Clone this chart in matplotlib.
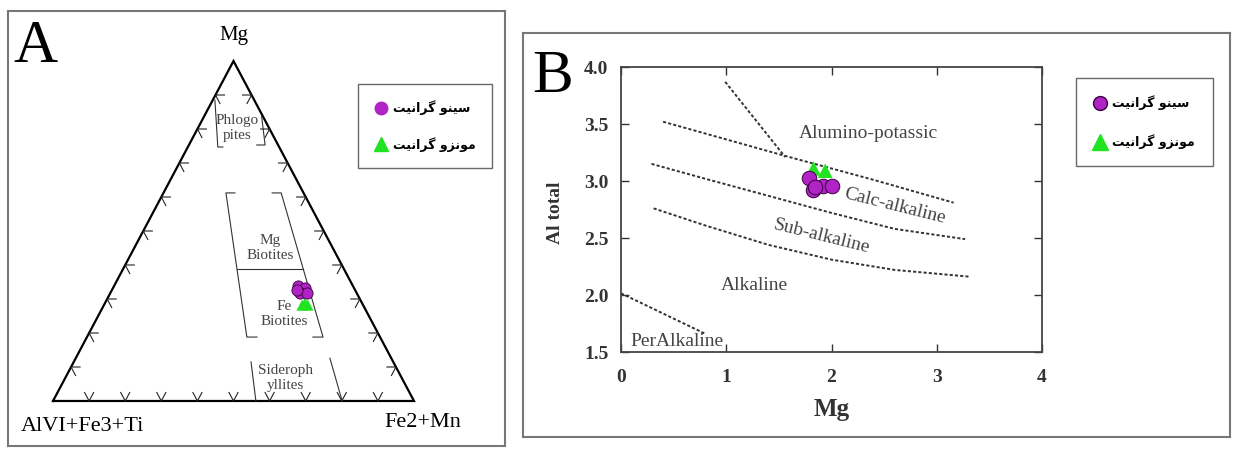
import matplotlib
matplotlib.use("Agg")
from matplotlib import pyplot as plt
from matplotlib.lines import Line2D
import numpy as np

# ---- panel A: ternary (Mg, Fe2+Mn) in percent, AlVI+Fe3+Ti = rest ----
syeno_A_mg = [33.8, 33.2, 31.8, 31.8, 32.6]
syeno_A_fe = [51.0, 53.2, 52.5, 54.5, 51.3]
monzo_A_mg = [28.2, 28.2, 28.8]
monzo_A_fe = [54.9, 56.5, 55.4]

# field boundaries (Mg %, Fe %)
fields_A = [
    [(88.5, 0.6), (74.7, 8.3), (74.7, 9.7)],
    [(83.6, 16.0), (75.3, 21.1), (75.3, 18.8)],
    [(61.2, 19.8), (61.2, 17.3), (18.8, 44.3), (18.8, 47.1)],
    [(61.2, 30.1), (61.2, 32.6), (18.8, 65.4), (18.8, 62.6)],
    [(38.8, 31.6), (38.8, 49.9)],
    [(11.5, 49.1), (0.0, 56.2)],
    [(12.6, 70.4), (0.0, 80.1)],
]
field_labels_A = ["Phlogo\npites", "Mg\nBiotites", "Fe\nBiotites", "Sideroph\nyllites"]
field_label_pos_A = [(80.3, 10.8), (45.0, 37.6), (25.6, 51.2), (6.8, 60.9)]

# ---- panel B: Al total vs Mg ----
syeno_B_mg = [1.79, 1.82, 1.92, 2.00, 1.84]
syeno_B_al = [3.03, 2.92, 2.96, 2.96, 2.95]
monzo_B_mg = [1.83, 1.94]
monzo_B_al = [3.11, 3.09]

line1_x = [0.99, 1.56]
line1_y = [3.87, 3.21]
line2_x = [0.40, 1.56, 2.40, 3.16]
line2_y = [3.52, 3.22, 3.01, 2.81]
line3_x = [0.29, 0.80, 1.40, 2.00, 2.60, 3.27]
line3_y = [3.15, 3.02, 2.87, 2.72, 2.58, 2.49]
line4_x = [0.31, 0.80, 1.40, 2.00, 2.60, 3.32]
line4_y = [2.76, 2.61, 2.44, 2.31, 2.22, 2.16]
line5_x = [0.00, 0.80]
line5_y = [2.015, 1.66]

labels_B = ["Alumino-potassic", "Calc-alkaline", "Sub-alkaline", "Alkaline", "PerAlkaline"]
labels_B_x = [2.35, 2.60, 1.91, 1.27, 0.53]
labels_B_y = [3.42, 2.78, 2.51, 2.08, 1.59]
labels_B_rot = [0, -14, -14, 0, 0]

legend_names = ["سینو گرانیت", "مونزو گرانیت"]

# simple Persian shaping (matplotlib has no complex text layout)
FORMS = {
    'س': '\uFEB1\uFEB2\uFEB3\uFEB4',
    'ی': '\uFBFC\uFBFD\uFBFE\uFBFF',
    'ن': '\uFEE5\uFEE6\uFEE7\uFEE8',
    'و': '\uFEED\uFEEE',
    'گ': '\uFB92\uFB93\uFB94\uFB95',
    'ر': '\uFEAD\uFEAE',
    'ا': '\uFE8D\uFE8E',
    'ت': '\uFE95\uFE96\uFE97\uFE98',
    'م': '\uFEE1\uFEE2\uFEE3\uFEE4',
    'ز': '\uFEAF\uFEB0',
}


def shape(text):
    out = []
    for i, ch in enumerate(text):
        if ch not in FORMS:
            out.append(ch)
            continue
        prev = text[i - 1] if i > 0 else ''
        nxt = text[i + 1] if i + 1 < len(text) else ''
        jp = prev in FORMS and len(FORMS[prev]) == 4
        jn = nxt in FORMS and len(FORMS[ch]) == 4
        f = FORMS[ch]
        if jp and jn:
            out.append(f[3])
        elif jp:
            out.append(f[1])
        elif jn:
            out.append(f[2])
        else:
            out.append(f[0])
    return ''.join(reversed(out))


def tern(mg, fe):
    mg = np.asarray(mg) / 100.0
    fe = np.asarray(fe) / 100.0
    return fe + mg / 2, mg


serif = "Liberation Serif"
purple = "#b023c4"
green = "#22e322"
W, H = 1234, 450

fig = plt.figure(figsize=(W / 100, H / 100), dpi=100)

# ================= Panel A =================
axA = fig.add_axes([8 / W, 1 - 446 / H, 497 / W, 435 / H])
axA.set_xlim(-0.1247, 1.2521)
axA.set_ylim(-0.1324, 1.1471)
axA.set_xticks([])
axA.set_yticks([])
for s in axA.spines.values():
    s.set_color("#777777")
    s.set_linewidth(1.5)

axA.plot([0, 1, 0.5, 0], [0, 0, 1, 0], color="black", lw=1.6, solid_joinstyle="miter")
t = 0.025
for k in range(1, 10):
    p = k / 10
    # bottom edge
    axA.plot([p - 0.5 * t, p, p + 0.5 * t], [t, 0, t], color="#222", lw=0.8)
    # left edge
    lx, ly = p / 2, p
    axA.plot([lx + t, lx, lx + 0.5 * t], [ly, ly, ly - t], color="#222", lw=0.8)
    # right edge
    rx, ry = 1 - p / 2, p
    axA.plot([rx - t, rx, rx - 0.5 * t], [ry, ry, ry - t], color="#222", lw=0.8)

for seg in fields_A:
    x, y = tern([q[0] for q in seg], [q[1] for q in seg])
    axA.plot(x, y, color="#333", lw=0.8)
for lab, (m, f) in zip(field_labels_A, field_label_pos_A):
    x, y = tern(m, f)
    axA.text(x, y, lab, ha="center", va="center", family=serif, fontsize=11,
             color="#444", linespacing=1.15)

x, y = tern(syeno_A_mg, syeno_A_fe)
axA.scatter(x, y, s=65, marker="o", color=purple, edgecolor="#3a0040", linewidth=0.6, zorder=5)
x, y = tern(monzo_A_mg, monzo_A_fe)
axA.scatter(x, y, s=65, marker="^", color=green, edgecolor="none", zorder=4)

axA.text(0.5, 1.062, "Mg", ha="center", va="baseline", family=serif, fontsize=15)
axA.text(0.082, -0.088, "AlVI+Fe3+Ti", ha="center", va="baseline", family=serif, fontsize=16)
axA.text(1.025, -0.076, "Fe2+Mn", ha="center", va="baseline", family=serif, fontsize=16)

leg_prop = {"family": "DejaVu Sans", "weight": "bold", "size": 9}
handles = [
    Line2D([], [], marker="o", ls="none", color=purple, markersize=9),
    Line2D([], [], marker="^", ls="none", color=green, markersize=10),
]
legA = axA.legend(handles, [shape(n) for n in legend_names], loc="upper left",
                  bbox_to_anchor=(358 / W, 1 - 84 / H), bbox_transform=fig.transFigure,
                  prop=leg_prop, frameon=True, fancybox=False, edgecolor="#444",
                  borderaxespad=0, borderpad=1.3, handletextpad=0.5, labelspacing=1.75,
                  handlelength=1.0)
legA.get_frame().set_linewidth(1.0)

fig.text(13 / W, 1 - 62 / H, "A", family=serif, fontsize=44, va="baseline")

# ================= Panel B =================
frameB = fig.add_axes([523 / W, 1 - 437 / H, 707 / W, 404 / H])
frameB.set_xticks([])
frameB.set_yticks([])
for s in frameB.spines.values():
    s.set_color("#777777")
    s.set_linewidth(1.5)

axB = fig.add_axes([621 / W, 1 - 352 / H, 421 / W, 285 / H])
axB.set_xlim(0, 4)
axB.set_ylim(1.5, 4.0)
axB.set_xticks([0, 1, 2, 3, 4])
axB.set_yticks([1.5, 2.0, 2.5, 3.0, 3.5, 4.0])
axB.set_yticklabels(["%.1f" % v for v in [1.5, 2.0, 2.5, 3.0, 3.5, 4.0]])
axB.tick_params(direction="in", top=True, right=True, length=6, width=1.0, color="#333")
axB.tick_params(axis="x", pad=12)
axB.tick_params(axis="y", pad=9)
for lab in axB.get_xticklabels() + axB.get_yticklabels():
    lab.set_family(serif)
    lab.set_fontweight("bold")
    lab.set_fontsize(14)
    lab.set_color("#333")
for s in axB.spines.values():
    s.set_color("#444")
    s.set_linewidth(1.3)

for lx, ly in [(line1_x, line1_y), (line2_x, line2_y), (line3_x, line3_y),
               (line4_x, line4_y), (line5_x, line5_y)]:
    axB.plot(lx, ly, color="#333", lw=1.4, ls=(0, (1.6, 1.1)))

for lab, x, y, r in zip(labels_B, labels_B_x, labels_B_y, labels_B_rot):
    axB.text(x, y, lab, ha="center", va="center", rotation=r, family=serif,
             fontsize=14, color="#444")

axB.scatter(syeno_B_mg, syeno_B_al, s=110, marker="o", color=purple, edgecolor="#3a0040",
            linewidth=0.7, zorder=4)
axB.scatter(monzo_B_mg, monzo_B_al, s=110, marker="^", color=green, edgecolor="none", zorder=3)

axB.set_xlabel("Mg", family=serif, fontweight="bold", fontsize=18, color="#333")
axB.xaxis.set_label_coords(0.5, -0.16)
axB.set_ylabel("Al total", family=serif, fontweight="bold", fontsize=14, color="#333")
axB.yaxis.set_label_coords(-0.135, 0.49)

handlesB = [
    Line2D([], [], marker="o", ls="none", color=purple, markeredgecolor="#3a0040",
           markersize=10),
    Line2D([], [], marker="^", ls="none", color=green, markersize=12),
]
legB = axB.legend(handlesB, [shape(n) for n in legend_names], loc="upper left",
                  bbox_to_anchor=(1076 / W, 1 - 78 / H), bbox_transform=fig.transFigure,
                  prop=leg_prop, frameon=True, fancybox=False, edgecolor="#444",
                  borderaxespad=0, borderpad=1.4, handletextpad=0.5, labelspacing=1.9,
                  handlelength=1.0)
legB.get_frame().set_linewidth(1.0)

fig.text(532 / W, 1 - 92 / H, "B", family=serif, fontsize=44, va="baseline")

fig.savefig("out.png", dpi=100)
